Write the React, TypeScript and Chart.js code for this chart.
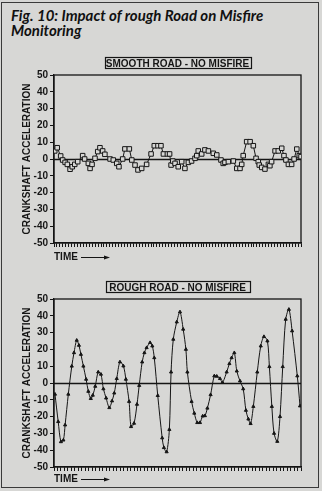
import React, { useEffect, useRef } from 'react';
import { Chart, registerables } from 'chart.js';

Chart.register(...registerables);

// ---- data ----
const FIG_TITLE_1 = 'Fig. 10: Impact of rough Road on Misfire';
const FIG_TITLE_2 = 'Monitoring';
const SMOOTH_TITLE = 'SMOOTH ROAD - NO MISFIRE';
const ROUGH_TITLE = 'ROUGH ROAD - NO MISFIRE';
const Y_TITLE = 'CRANKSHAFT ACCELERATION';
const X_TITLE = 'TIME';
const Y_TICKS = [50, 40, 30, 20, 10, 0, -10, -20, -30, -40, -50];

const SMOOTH_TIME = [0.3, 1.3, 2.7, 3.5, 4.5, 5.4, 6.5, 7.4, 8.4, 9.6, 11.6, 12.4, 13.9, 14.6, 15.4, 16.6, 17.7, 18.6, 19.7, 20.6, 22.7, 24.0, 25.4, 26.3, 27.8, 28.7, 30.5, 31.5, 32.8, 34.0, 35.5, 37.5, 39.3, 40.6, 42.1, 43.3, 44.3, 45.9, 46.8, 47.4, 48.1, 49.0, 50.3, 51.7, 53.0, 54.4, 55.7, 57.1, 57.8, 58.4, 59.8, 61.1, 62.5, 64.5, 65.9, 67.6, 68.5, 69.2, 70.6, 72.6, 74.0, 75.3, 76.0, 76.6, 78.0, 79.4, 80.7, 81.8, 82.7, 83.1, 84.1, 85.4, 86.8, 87.4, 88.1, 89.5, 90.8, 92.2, 93.1, 93.9, 94.9, 96.2, 97.2, 98.3, 99.3, 100];
const SMOOTH_ACCEL = [4.8, 6.7, 1.8, -0.6, -2, -3.2, -6.1, -4.6, -3.2, -1.6, 2, 0, -2.6, -5.6, -3.2, 0.4, 4.4, 6.7, 4.8, 2.8, 0, -0.6, -2.6, -4.6, 0, 6, 6, -0.6, -3.6, -6.5, -5.6, -3.2, 3, 7.9, 7.9, 7.9, 3, 3, 3, -3.6, -1.2, -2.6, -4.6, -1.6, -5.6, -2, -1.2, 0.4, 2, 4.8, 3, 5.4, 4.8, 3.4, 2.4, -0.6, -2.6, -2, -1.6, -1.2, -5.6, -5.6, -3.2, 2, 10.3, 10.3, 7.9, 0.4, -1.6, -3.6, -5, -6, -3.2, -4, -1.6, 4.8, 4.8, 6.4, 2, -0.6, -3.2, -3.2, 0, 5.9, 2, 1.4];

const ROUGH_TIME = [0.4, 1.7, 2.8, 3.8, 4.5, 5.8, 7.2, 8.1, 9.2, 10.1, 10.9, 11.9, 13.0, 13.9, 14.9, 15.7, 16.7, 17.9, 19.0, 20.0, 21.1, 22.4, 23.5, 24.4, 25.4, 26.7, 28.1, 29.1, 30.4, 31.2, 32.4, 33.6, 34.5, 35.7, 36.6, 37.5, 38.9, 39.8, 40.6, 42.0, 43.8, 44.5, 45.6, 46.7, 47.4, 48.3, 49.7, 51.0, 52.3, 53.4, 54.0, 55.7, 56.8, 58.0, 59.1, 60.2, 61.1, 62.1, 63.4, 64.9, 65.9, 67.2, 68.2, 69.9, 71.0, 71.9, 73.0, 74.0, 75.3, 76.6, 77.7, 78.7, 79.6, 80.7, 82.3, 83.7, 85.0, 86.4, 87.2, 88.2, 89.1, 90.4, 91.5, 92.6, 93.8, 95.1, 96.4, 98.5, 99.6];
const ROUGH_ACCEL = [-6.7, -23, -35, -34, -25, -6.7, 10, 18, 25.4, 22.4, 17, 10, 2.2, -5, -9.3, -7.3, -2, 6.5, 5.2, -3.5, -9, -14.7, -10.7, -6, 2.6, 12.5, 10.1, 2.2, -11, -26, -24, -12.7, -1.5, 12.5, 18, 21, 24, 22, 15, -7.5, -32.7, -38.5, -41, -27.7, 6.5, 26, 36.3, 42.3, 32, 20, 6.5, -11, -18, -23.6, -23.6, -19.7, -19.5, -15, -7, 4.2, 4, 2.6, 0.3, 6.5, 11.5, 15, 18, 7.1, 1.2, -3.5, -16.3, -21.5, -24.2, -14, 6.5, 22, 27.6, 25, 9.7, -14, -30, -34.8, -20, 9.7, 37.9, 43.8, 31, 4.2, -13.7];

const SMOOTH_TICK_COUNT = 85;
const ROUGH_TICK_COUNT = 72;

// ---- styles ----
const BG = '#d7d7d5';
const INK = '#151515';
const FONT = '"Liberation Sans", Arial, sans-serif';

const decorPlugin = {
  id: 'decor',
  beforeDatasetsDraw(chart: any, _a: any, opts: any) {
    const { ctx, chartArea: a, scales } = chart;
    ctx.save();
    ctx.strokeStyle = INK;
    ctx.lineWidth = 1.4;
    const y0 = Math.round(scales.y.getPixelForValue(0)) + 0.5;
    ctx.beginPath();
    ctx.moveTo(a.left, y0);
    ctx.lineTo(a.right, y0);
    ctx.stroke();
    ctx.lineWidth = 1.3;
    ctx.strokeRect(a.left, a.top, a.right - a.left, a.bottom - a.top);
    ctx.restore();
  },
  afterDraw(chart: any, _a: any, opts: any) {
    const { ctx, chartArea: a } = chart;
    ctx.save();
    ctx.font = 'bold 10px ' + FONT;
    ctx.fillStyle = INK;
    ctx.strokeStyle = INK;
    // boxed title
    const cx = (a.left + a.right) / 2;
    const w = opts.boxWidth;
    const h = 11;
    const top = a.top - opts.boxGap;
    ctx.lineWidth = 1.2;
    ctx.strokeRect(Math.round(cx - w / 2) + 0.5, top + 0.5, w, h);
    ctx.textAlign = 'center';
    ctx.textBaseline = 'middle';
    ctx.fillText(opts.title, cx, top + h / 2 + 1.5);
    // TIME with arrow
    ctx.textAlign = 'left';
    const ty = a.bottom + opts.timeGap;
    ctx.fillText(X_TITLE, a.left, ty);
    const x1 = a.left + 27;
    const x2 = a.left + 56;
    ctx.lineWidth = 1;
    ctx.beginPath();
    ctx.moveTo(x1, ty + 0.5);
    ctx.lineTo(x2 - 4, ty + 0.5);
    ctx.stroke();
    ctx.beginPath();
    ctx.moveTo(x2, ty + 0.5);
    ctx.lineTo(x2 - 6, ty - 1.5);
    ctx.lineTo(x2 - 6, ty + 2.5);
    ctx.closePath();
    ctx.fill();
    ctx.restore();
  },
};

type PanelProps = {
  top: number;
  height: number;
  padTop: number;
  xHeight: number;
  times: number[];
  values: number[];
  tickCount: number;
  title: string;
  boxWidth: number;
  boxGap: number;
  timeGap: number;
  rough: boolean;
};

function Panel(p: PanelProps) {
  const ref = useRef<HTMLCanvasElement>(null);
  useEffect(() => {
    if (!ref.current) return;
    const data = p.times.map((t, i) => ({ x: t, y: p.values[i] }));
    const chart = new Chart(ref.current, {
      type: 'line',
      data: {
        datasets: [
          {
            data,
            borderColor: INK,
            borderWidth: 1,
            tension: p.rough ? 0.3 : 0,
            pointStyle: p.rough ? 'triangle' : 'rect',
            pointRadius: p.rough ? 1.8 : 3.2,
            pointBackgroundColor: p.rough ? INK : BG,
            pointBorderColor: INK,
            pointBorderWidth: 1,
            pointHoverRadius: 0,
          },
        ],
      },
      options: {
        responsive: false,
        animation: false,
        events: [],
        layout: { padding: { top: p.padTop, right: 21, left: 0, bottom: 0 } },
        plugins: {
          legend: { display: false },
          tooltip: { enabled: false },
          decor: { title: p.title, boxWidth: p.boxWidth, boxGap: p.boxGap, timeGap: p.timeGap },
        } as any,
        scales: {
          x: {
            type: 'linear',
            min: 0,
            max: 100,
            ticks: { display: false, stepSize: 100 / (p.tickCount - 1), maxTicksLimit: 1000 },
            grid: { drawOnChartArea: false, drawTicks: true, tickLength: 4, color: INK, lineWidth: 1 },
            border: { display: true, color: INK, width: 1.3 },
            afterFit: (s: any) => {
              s.height = p.xHeight;
            },
          },
          y: {
            type: 'linear',
            min: -50,
            max: 50,
            afterBuildTicks: (s: any) => {
              s.ticks = Y_TICKS.map((v) => ({ value: v }));
            },
            ticks: {
              color: INK,
              padding: 2,
              font: { family: FONT, size: 10, weight: 'bold' },
              callback: (v: any) => String(v),
            },
            grid: { drawOnChartArea: false, drawTicks: true, tickLength: 4, color: INK, lineWidth: 1 },
            border: { display: true, color: INK, width: 1.3 },
            title: {
              display: true,
              text: Y_TITLE,
              color: INK,
              font: { family: FONT, size: 10, weight: 'bold' },
              padding: { top: 21, bottom: 0 },
            },
            afterFit: (s: any) => {
              s.width = 54;
            },
          },
        },
      },
      plugins: [decorPlugin],
    });
    return () => chart.destroy();
  }, []);
  return (
    <canvas
      ref={ref}
      width={322}
      height={p.height}
      style={{ position: 'absolute', left: 0, top: p.top, width: 322, height: p.height, display: 'block' }}
    />
  );
}

export default function App() {
  return (
    <div
      style={{
        position: 'absolute',
        left: 0,
        top: 0,
        width: 322,
        height: 491,
        background: BG,
        overflow: 'hidden',
      }}
    >
      <div
        style={{
          position: 'absolute',
          left: 1,
          top: 2,
          width: 316,
          height: 484,
          border: '1.5px solid #3a3a3a',
        }}
      />
      <div
        style={{
          position: 'absolute',
          left: 11,
          top: 8,
          fontFamily: 'Lato, "Open Sans", sans-serif',
          fontStyle: 'italic',
          fontWeight: 700,
          fontSize: 15,
          lineHeight: '15px',
          color: '#111',
          whiteSpace: 'nowrap',
          transformOrigin: '0 0',
        }}
      >
        {FIG_TITLE_1}
        <br />
        {FIG_TITLE_2}
      </div>
      <Panel
        top={50}
        height={222}
        padTop={25}
        xHeight={29}
        times={SMOOTH_TIME}
        values={SMOOTH_ACCEL}
        tickCount={SMOOTH_TICK_COUNT}
        title={SMOOTH_TITLE}
        boxWidth={146}
        boxGap={18}
        timeGap={14}
        rough={false}
      />
      <Panel
        top={272}
        height={219}
        padTop={27}
        xHeight={24}
        times={ROUGH_TIME}
        values={ROUGH_ACCEL}
        tickCount={ROUGH_TICK_COUNT}
        title={ROUGH_TITLE}
        boxWidth={144}
        boxGap={18}
        timeGap={12}
        rough={true}
      />
    </div>
  );
}
